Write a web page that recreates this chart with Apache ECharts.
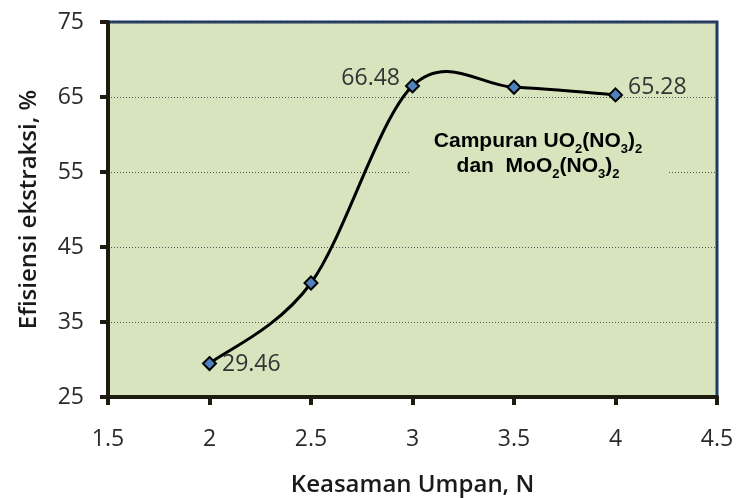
<!DOCTYPE html>
<html>
<head>
<meta charset="utf-8">
<script src="https://cdn.jsdelivr.net/npm/echarts@6/dist/echarts.min.js"></script>
<style>
  html, body { margin: 0; padding: 0; background: #fff; }
  #chart { width: 736px; height: 498px; }
</style>
</head>
<body>
<div id="chart"></div>
<script>
// data
const acidity = [2, 2.5, 3, 3.5, 4];
const efficiency = [29.46, 40.2, 66.48, 66.3, 65.28];
// which points carry a value label, and on which side
const shownLabels = { 0: 'right', 2: 'left', 4: 'right' };

const font = '"Open Sans", Lato, sans-serif';
const boldFont = '"Liberation Sans", Arial, sans-serif';
const plotBg = '#d7e4bd';

const chart = echarts.init(document.getElementById('chart'));

const points = acidity.map((x, i) => [x, efficiency[i]]);

const markerData = points.map((p, i) => {
    const item = { value: p };
    if (shownLabels[i]) {
        item.label = {
            show: true,
            position: shownLabels[i],
            offset: [0, i === 0 ? 1 : -7],
            formatter: efficiency[i].toFixed(2)
        };
    }
    return item;
});

// Excel-like smoothed line (Catmull-Rom through the data points, in pixel space)
function renderCurve(params, api) {
    if (params.dataIndex !== 0) return null;
    const px = points.map(p => api.coord(p));
    const n = px.length;
    let d = 'M' + px[0][0] + ' ' + px[0][1];
    for (let i = 0; i < n - 1; i++) {
        const p0 = px[Math.max(i - 1, 0)];
        const p1 = px[i];
        const p2 = px[i + 1];
        const p3 = px[Math.min(i + 2, n - 1)];
        const c1 = [p1[0] + (p2[0] - p0[0]) / 6, p1[1] + (p2[1] - p0[1]) / 6];
        const c2 = [p2[0] - (p3[0] - p1[0]) / 6, p2[1] - (p3[1] - p1[1]) / 6];
        d += ' C' + c1.join(' ') + ' ' + c2.join(' ') + ' ' + p2.join(' ');
    }
    return {
        type: 'path',
        shape: { pathData: d },
        style: { fill: null, stroke: '#000', lineWidth: 3 }
    };
}

chart.setOption({
    animation: false,
    grid: {
        left: 108, right: 19, top: 22, bottom: 101,
        outerBoundsMode: 'none',
        containLabel: false,
        show: true,
        backgroundColor: plotBg,
        borderColor: '#1f3864',
        borderWidth: 3
    },
    xAxis: {
        type: 'value',
        min: 1.5, max: 4.5, interval: 0.5,
        name: 'Keasaman Umpan, N',
        nameLocation: 'middle',
        nameGap: 76,
        nameTextStyle: { fontFamily: font, fontSize: 24, fontWeight: 600, color: '#1a1a1a' },
        axisLine: { lineStyle: { color: '#1e1b10', width: 4 } },
        axisTick: { show: true, length: 8, lineStyle: { color: '#1e1b10', width: 4 } },
        axisLabel: { fontFamily: font, fontSize: 23, color: '#2a2a2a', margin: 31 },
        splitLine: { show: false }
    },
    yAxis: {
        type: 'value',
        min: 25, max: 75, interval: 10,
        name: 'Efisiensi ekstraksi, %',
        nameLocation: 'middle',
        nameGap: 67,
        nameTextStyle: { fontFamily: font, fontSize: 24, fontWeight: 600, color: '#1a1a1a' },
        axisLine: { show: true, lineStyle: { color: '#1e1b10', width: 4 } },
        axisTick: { show: true, length: 8, lineStyle: { color: '#1e1b10', width: 4 } },
        axisLabel: { fontFamily: font, fontSize: 23, color: '#2a2a2a', margin: 24 },
        splitLine: { show: true, lineStyle: { color: '#555', type: [1, 2], width: 1 } }
    },
    graphic: [{
        type: 'rect',
        shape: { x: 410, y: 118, width: 257, height: 72 },
        style: { fill: plotBg },
        z: 9
    }, {
        type: 'text',
        x: 538, y: 127,
        z: 10,
        style: {
            text: '{m|Campuran UO}{s|2}{m|(NO}{s|3}{m|)}{s|2}\n{m|dan  MoO}{s|2}{m|(NO}{s|3}{m|)}{s|2}',
            align: 'center',
            verticalAlign: 'top',
            rich: {
                m: { fontFamily: boldFont, fontSize: 21, fontWeight: 'bold', color: '#111', lineHeight: 25, verticalAlign: 'bottom' },
                s: { fontFamily: boldFont, fontSize: 13, fontWeight: 'bold', color: '#111', lineHeight: 25, verticalAlign: 'bottom', padding: [0, 0, -4, 0] }
            }
        }
    }],
    series: [{
        type: 'custom',
        renderItem: renderCurve,
        data: points,
        z: 4,
        silent: true
    }, {
        type: 'scatter',
        data: markerData,
        symbol: 'diamond',
        symbolSize: 13,
        itemStyle: { color: '#4f81bd', borderColor: '#000', borderWidth: 2, opacity: 1 },
        label: { fontFamily: font, fontSize: 23, color: '#333', distance: 5 },
        z: 5
    }]
});
</script>
</body>
</html>
